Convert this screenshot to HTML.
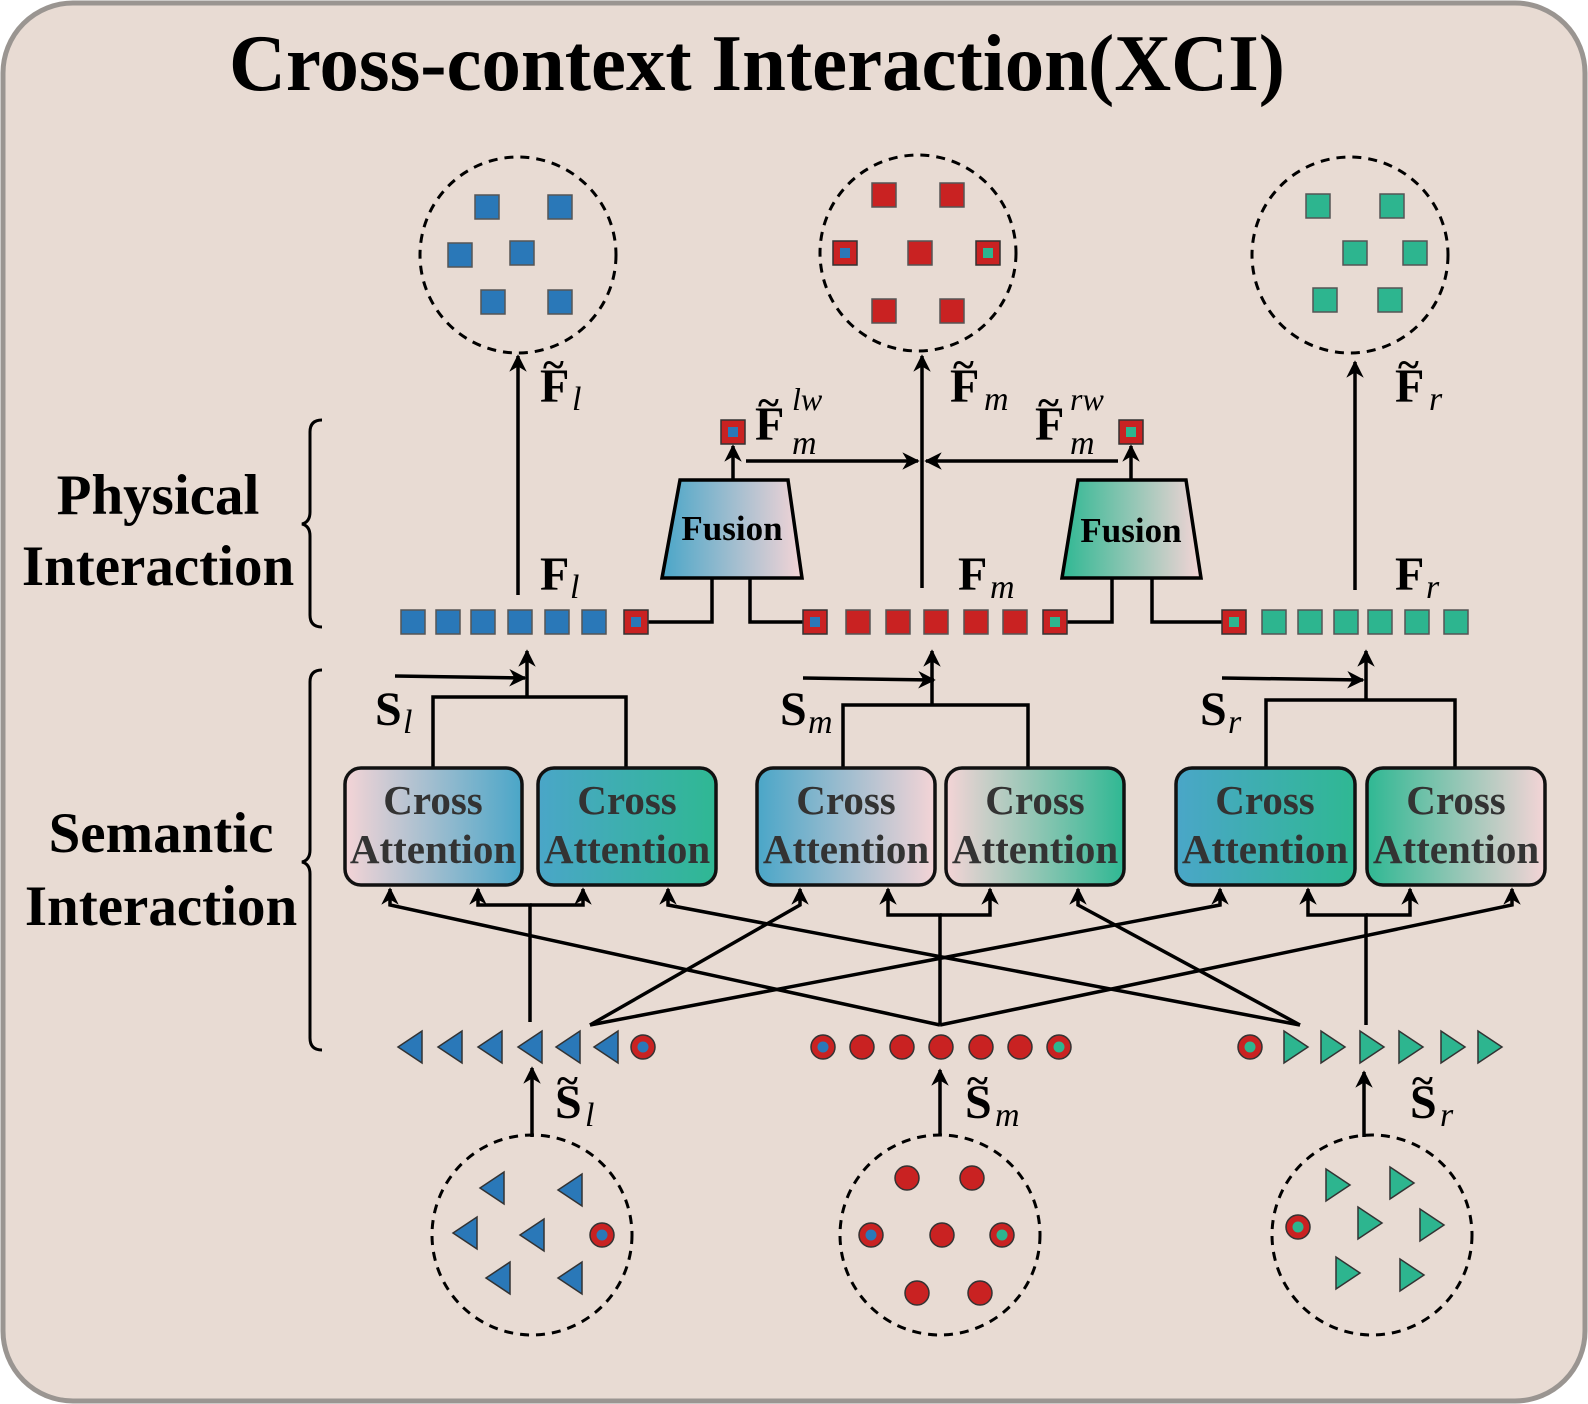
<!DOCTYPE html>
<html><head><meta charset="utf-8"><style>
html,body{margin:0;padding:0;background:#fff}
svg{display:block}
text{font-family:"Liberation Serif","Times New Roman",serif}
.b{font-weight:bold}
.it{font-style:italic;font-weight:normal}
</style></head><body>
<svg width="1588" height="1404" viewBox="0 0 1588 1404" xmlns="http://www.w3.org/2000/svg">
<defs>
<linearGradient id="gPB" x1="0" x2="1"><stop offset="0" stop-color="#f4d4d6"/><stop offset="1" stop-color="#4aa6c8"/></linearGradient>
<linearGradient id="gBP" x1="0" x2="1"><stop offset="0" stop-color="#4aa6c8"/><stop offset="1" stop-color="#f4d4d6"/></linearGradient>
<linearGradient id="gBT" x1="0" x2="1"><stop offset="0" stop-color="#4aa6c8"/><stop offset="1" stop-color="#2fb893"/></linearGradient>
<linearGradient id="gPT" x1="0" x2="1"><stop offset="0" stop-color="#f4d4d6"/><stop offset="1" stop-color="#2fb893"/></linearGradient>
<linearGradient id="gTP" x1="0" x2="1"><stop offset="0" stop-color="#2fb893"/><stop offset="1" stop-color="#f4d4d6"/></linearGradient>
<marker id="ar" viewBox="0 0 10 10" refX="9" refY="5" markerWidth="5" markerHeight="5" orient="auto"><path d="M0,0 L10,5 L0,10 L3,5 z" fill="#000"/></marker>
<g id="sqB"><rect x="-12" y="-12" width="24" height="24" fill="#2a78b8" stroke="#555" stroke-width="1.5"/></g>
<g id="sqR"><rect x="-12" y="-12" width="24" height="24" fill="#c92222" stroke="#555" stroke-width="1.5"/></g>
<g id="sqT"><rect x="-12" y="-12" width="24" height="24" fill="#2db58f" stroke="#555" stroke-width="1.5"/></g>
<g id="sqRB"><rect x="-12" y="-12" width="24" height="24" fill="#c92222" stroke="#333" stroke-width="1.5"/><rect x="-5" y="-5" width="10" height="10" fill="#2a78b8"/></g>
<g id="sqRT"><rect x="-12" y="-12" width="24" height="24" fill="#c92222" stroke="#333" stroke-width="1.5"/><rect x="-5" y="-5" width="10" height="10" fill="#2db58f"/></g>
<g id="tL"><path d="M-12,0 L12,-16 L12,16 z" fill="#2a78b8" stroke="#333" stroke-width="1.5"/></g>
<g id="tR"><path d="M12,0 L-12,-16 L-12,16 z" fill="#2db58f" stroke="#333" stroke-width="1.5"/></g>
<g id="cR"><circle r="12" fill="#c92222" stroke="#333" stroke-width="1.5"/></g>
<g id="cRB"><circle r="12" fill="#c92222" stroke="#333" stroke-width="1.5"/><circle r="5.5" fill="#2a78b8"/></g>
<g id="cRT"><circle r="12" fill="#c92222" stroke="#333" stroke-width="1.5"/><circle r="5.5" fill="#2db58f"/></g>
</defs>
<rect x="3" y="3" width="1582" height="1398" rx="70" fill="#e8dbd3" stroke="#9a9591" stroke-width="5"/>
<text x="757" y="90" text-anchor="middle" class="b" font-size="80" textLength="1056" lengthAdjust="spacingAndGlyphs">Cross-context Interaction(XCI)</text>

<g class="b" font-size="57" text-anchor="middle">
<text x="158" y="514">Physical</text><text x="158" y="585">Interaction</text>
<text x="161" y="852">Semantic</text><text x="161" y="925">Interaction</text>
</g>
<g fill="none" stroke="#000" stroke-width="3">
<path d="M322,420 Q310,420 310,432 L310,512 Q310,522 302,524 Q310,526 310,536 L310,615 Q310,627 322,627"/>
<path d="M322,670 Q310,670 310,682 L310,850 Q310,860 302,862 Q310,864 310,874 L310,1038 Q310,1050 322,1050"/>
</g>

<g fill="none" stroke="#000" stroke-width="3" stroke-dasharray="9,7">
<circle cx="518" cy="255" r="98"/><circle cx="918" cy="253" r="98"/><circle cx="1350" cy="255" r="98"/>
<circle cx="532" cy="1235" r="100"/><circle cx="940" cy="1235" r="100"/><circle cx="1372" cy="1235" r="100"/>
</g>
<use href="#sqB" x="487" y="207"/><use href="#sqB" x="560" y="207"/><use href="#sqB" x="460" y="255"/><use href="#sqB" x="522" y="253"/><use href="#sqB" x="493" y="302"/><use href="#sqB" x="560" y="302"/>
<use href="#sqR" x="884" y="195"/><use href="#sqR" x="952" y="195"/><use href="#sqRB" x="845" y="253"/><use href="#sqR" x="920" y="253"/><use href="#sqRT" x="988" y="253"/><use href="#sqR" x="884" y="311"/><use href="#sqR" x="952" y="311"/>
<use href="#sqT" x="1318" y="206"/><use href="#sqT" x="1392" y="206"/><use href="#sqT" x="1355" y="253"/><use href="#sqT" x="1415" y="253"/><use href="#sqT" x="1325" y="300"/><use href="#sqT" x="1390" y="300"/>
<use href="#tL" x="492" y="1188"/><use href="#tL" x="570" y="1190"/><use href="#tL" x="465" y="1233"/><use href="#tL" x="532" y="1235"/><use href="#cRB" x="602" y="1235"/><use href="#tL" x="498" y="1278"/><use href="#tL" x="570" y="1278"/>
<use href="#cR" x="907" y="1178"/><use href="#cR" x="972" y="1178"/><use href="#cRB" x="871" y="1235"/><use href="#cR" x="942" y="1235"/><use href="#cRT" x="1002" y="1235"/><use href="#cR" x="917" y="1293"/><use href="#cR" x="980" y="1293"/>
<use href="#tR" x="1338" y="1185"/><use href="#tR" x="1402" y="1183"/><use href="#cRT" x="1298" y="1227"/><use href="#tR" x="1370" y="1223"/><use href="#tR" x="1432" y="1225"/><use href="#tR" x="1348" y="1273"/><use href="#tR" x="1412" y="1275"/>

<g fill="none" stroke="#000" stroke-width="3.5" marker-end="url(#ar)">
<path d="M518,595 L518,356"/><path d="M922,588 L922,356"/><path d="M1355,590 L1355,362"/>
<path d="M733,480 L733,446"/><path d="M1131,480 L1131,446"/>
<path d="M746,461 L918,461"/><path d="M1118,461 L926,461"/>
<path d="M527,697 L527,651"/><path d="M395,676 L525,678"/>
<path d="M932,705 L932,651"/><path d="M803,678 L934,680"/>
<path d="M1366,700 L1366,651"/><path d="M1222,678 L1363,680"/>
<path d="M532,1137 L532,1068"/><path d="M940,1135 L940,1070"/><path d="M1364,1137 L1364,1072"/>
<path d="M940,1025 L390,905 L390,889"/>
<path d="M1300,1025 L668,905 L668,889"/>
<path d="M1300,1025 L1078,905 L1078,889"/>
<path d="M940,1025 L1512,905 L1512,889"/>
<path d="M590,1025 L800,905 L800,889"/>
<path d="M590,1025 L1220,905 L1220,889"/>
<path d="M530,1022 L530,905 L478,905 L478,889"/><path d="M530,905 L583,905 L583,889"/>
<path d="M940,1025 L940,915 L888,915 L888,889"/><path d="M940,915 L990,915 L990,889"/>
<path d="M1366,1025 L1366,915 L1308,915 L1308,889"/><path d="M1366,915 L1410,915 L1410,889"/>
</g>
<g fill="none" stroke="#000" stroke-width="3.5">
<path d="M433,768 L433,697 L626,697 L626,768"/>
<path d="M843,768 L843,705 L1028,705 L1028,768"/>
<path d="M1266,768 L1266,700 L1455,700 L1455,768"/>
<path d="M648,622 L712,622 L712,578"/><path d="M750,578 L750,622 L803,622"/>
<path d="M1067,622 L1112,622 L1112,578"/><path d="M1152,578 L1152,622 L1222,622"/>
</g>

<path d="M680,480 L788,480 L802,578 L662,578 z" fill="url(#gBP)" stroke="#000" stroke-width="3.5"/>
<path d="M1078,480 L1186,480 L1201,578 L1062,578 z" fill="url(#gTP)" stroke="#000" stroke-width="3.5"/>
<g class="b" font-size="35" text-anchor="middle"><text x="732" y="540">Fusion</text><text x="1131" y="542">Fusion</text></g>
<use href="#sqRB" x="733" y="432"/><use href="#sqRT" x="1131" y="432"/>

<g stroke="#111" stroke-width="3.5">
<rect x="345" y="768" width="177" height="117" rx="16" fill="url(#gPB)"/>
<rect x="538" y="768" width="178" height="117" rx="16" fill="url(#gBT)"/>
<rect x="757" y="768" width="178" height="117" rx="16" fill="url(#gBP)"/>
<rect x="946" y="768" width="178" height="117" rx="16" fill="url(#gPT)"/>
<rect x="1176" y="768" width="179" height="117" rx="16" fill="url(#gBT)"/>
<rect x="1367" y="768" width="178" height="117" rx="16" fill="url(#gTP)"/>
</g>
<g class="b" font-size="41" fill="#333" text-anchor="middle">
<text x="433" y="814">Cross</text><text x="433" y="863">Attention</text>
<text x="627" y="814">Cross</text><text x="627" y="863">Attention</text>
<text x="846" y="814">Cross</text><text x="846" y="863">Attention</text>
<text x="1035" y="814">Cross</text><text x="1035" y="863">Attention</text>
<text x="1265" y="814">Cross</text><text x="1265" y="863">Attention</text>
<text x="1456" y="814">Cross</text><text x="1456" y="863">Attention</text>
</g>

<use href="#sqB" x="413" y="622"/><use href="#sqB" x="448" y="622"/><use href="#sqB" x="483" y="622"/><use href="#sqB" x="520" y="622"/><use href="#sqB" x="557" y="622"/><use href="#sqB" x="594" y="622"/><use href="#sqRB" x="636" y="622"/>
<use href="#sqRB" x="815" y="622"/><use href="#sqR" x="858" y="622"/><use href="#sqR" x="898" y="622"/><use href="#sqR" x="936" y="622"/><use href="#sqR" x="976" y="622"/><use href="#sqR" x="1015" y="622"/><use href="#sqRT" x="1055" y="622"/>
<use href="#sqRT" x="1234" y="622"/><use href="#sqT" x="1274" y="622"/><use href="#sqT" x="1310" y="622"/><use href="#sqT" x="1346" y="622"/><use href="#sqT" x="1380" y="622"/><use href="#sqT" x="1417" y="622"/><use href="#sqT" x="1456" y="622"/>
<use href="#tL" x="410" y="1047"/><use href="#tL" x="450" y="1047"/><use href="#tL" x="490" y="1047"/><use href="#tL" x="530" y="1047"/><use href="#tL" x="568" y="1047"/><use href="#tL" x="606" y="1047"/><use href="#cRB" x="643" y="1047"/>
<use href="#cRB" x="823" y="1047"/><use href="#cR" x="862" y="1047"/><use href="#cR" x="902" y="1047"/><use href="#cR" x="941" y="1047"/><use href="#cR" x="981" y="1047"/><use href="#cR" x="1020" y="1047"/><use href="#cRT" x="1059" y="1047"/>
<use href="#cRT" x="1250" y="1047"/><use href="#tR" x="1296" y="1047"/><use href="#tR" x="1333" y="1047"/><use href="#tR" x="1372" y="1047"/><use href="#tR" x="1411" y="1047"/><use href="#tR" x="1453" y="1047"/><use href="#tR" x="1490" y="1047"/>

<g font-size="48">
<text x="540" y="402" class="b">F</text><text x="543" y="378" class="b" font-size="40">~</text><text x="572" y="410" class="it" font-size="34">l</text>
<text x="950" y="402" class="b">F</text><text x="953" y="378" class="b" font-size="40">~</text><text x="984" y="410" class="it" font-size="34">m</text>
<text x="1395" y="402" class="b">F</text><text x="1398" y="378" class="b" font-size="40">~</text><text x="1429" y="410" class="it" font-size="34">r</text>
<text x="755" y="440" class="b">F</text><text x="758" y="416" class="b" font-size="40">~</text><text x="792" y="454" class="it" font-size="34">m</text><text x="792" y="410" class="it" font-size="32">lw</text>
<text x="1035" y="440" class="b">F</text><text x="1038" y="416" class="b" font-size="40">~</text><text x="1070" y="454" class="it" font-size="34">m</text><text x="1070" y="410" class="it" font-size="32">rw</text>
<text x="540" y="590" class="b">F</text><text x="570" y="598" class="it" font-size="34">l</text>
<text x="958" y="590" class="b">F</text><text x="990" y="598" class="it" font-size="34">m</text>
<text x="1395" y="590" class="b">F</text><text x="1426" y="598" class="it" font-size="34">r</text>
<text x="375" y="725" class="b">S</text><text x="403" y="733" class="it" font-size="34">l</text>
<text x="780" y="725" class="b">S</text><text x="808" y="733" class="it" font-size="34">m</text>
<text x="1200" y="725" class="b">S</text><text x="1228" y="733" class="it" font-size="34">r</text>
<text x="555" y="1118" class="b">S</text><text x="557" y="1094" class="b" font-size="40">~</text><text x="585" y="1126" class="it" font-size="34">l</text>
<text x="965" y="1118" class="b">S</text><text x="967" y="1094" class="b" font-size="40">~</text><text x="995" y="1126" class="it" font-size="34">m</text>
<text x="1410" y="1118" class="b">S</text><text x="1412" y="1094" class="b" font-size="40">~</text><text x="1440" y="1126" class="it" font-size="34">r</text>
</g>
</svg>
</body></html>
